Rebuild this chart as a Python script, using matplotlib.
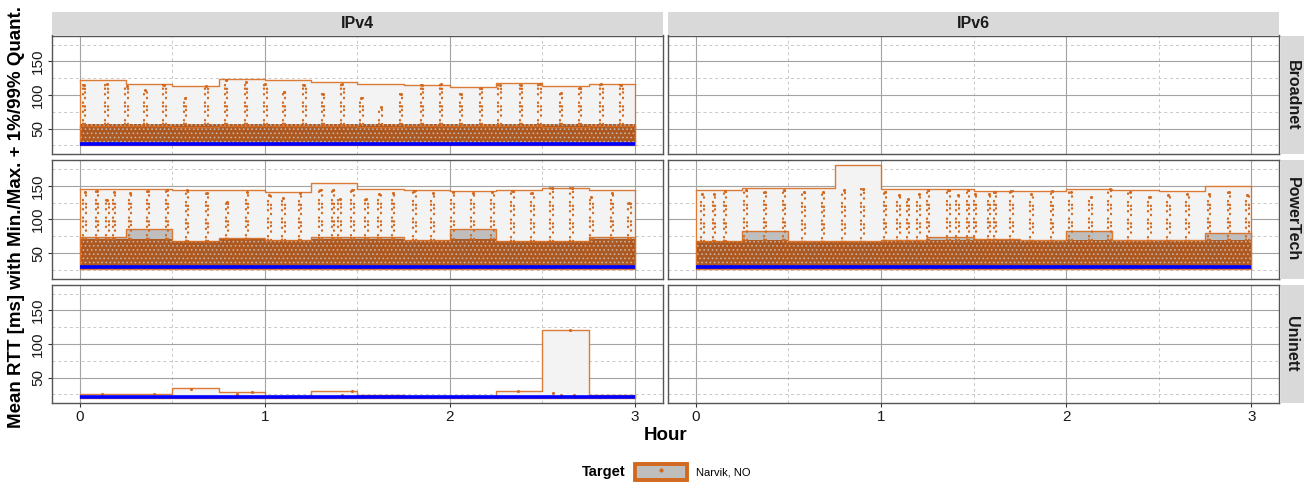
import matplotlib
matplotlib.use("Agg")
import matplotlib.pyplot as plt
import matplotlib.transforms as mtransforms
from matplotlib.patches import Patch
from matplotlib.lines import Line2D

plt.rcParams['font.family'] = ['Liberation Sans', 'DejaVu Sans']
plt.rcParams['hatch.linewidth'] = 0.7

# ---------------- data ----------------
protocols = ['IPv4', 'IPv6']
providers = ['Broadnet', 'PowerTech', 'Uninett']
interval_start = [0.0, 0.25, 0.5, 0.75, 1.0, 1.25, 1.5, 1.75, 2.0, 2.25, 2.5, 2.75]
interval_width = 0.25
x_ticks = [0, 1, 2, 3]
y_ticks = [50, 100, 150]

# Broadnet / IPv4
bro4_min = [25.4, 25.5, 25.3, 25.5, 25.4, 25.5, 25.4, 25.5, 25.3, 25.4, 25.5, 25.4]
bro4_q01 = [26.0, 26.1, 26.0, 26.1, 26.0, 26.0, 26.1, 26.0, 26.0, 26.1, 26.0, 26.0]
bro4_q99 = [53.0, 53.0, 52.0, 54.0, 53.0, 53.0, 52.0, 53.0, 54.0, 53.0, 52.0, 53.0]
bro4_max = [122.1, 116.2, 112.7, 123.6, 122.1, 118.7, 116.2, 115.6, 111.2, 117.2, 112.7, 116.2]
bro4_mean = [27.1, 27.0, 27.0, 27.1, 27.0, 27.1, 27.0, 27.0, 27.1, 27.0, 27.0, 27.1]
bro4_dense = [57, 57, 56, 57, 57, 57, 56, 57, 57, 56, 56, 57]
bro4_streak_x = [0.023, 0.145, 0.253, 0.355, 0.458, 0.57, 0.684, 0.791, 0.899, 1.003, 1.104, 1.214,
                 1.316, 1.42, 1.522, 1.626, 1.737, 1.85, 1.952, 2.061, 2.168, 2.27, 2.384, 2.486,
                 2.6, 2.703, 2.82, 2.928]
bro4_streak_top = [115, 117, 113, 107, 115, 95, 113, 122, 120, 117, 105, 115,
                   102, 117, 95, 82, 102, 115, 116, 101, 111, 115, 115, 116,
                   103, 111, 116, 115]

# PowerTech / IPv4
pow4_min = [26.5, 26.6, 26.5, 26.4, 26.5, 26.6, 26.5, 26.5, 26.6, 26.5, 26.4, 26.5]
pow4_q01 = [27.2, 27.3, 27.2, 27.1, 27.2, 27.3, 27.2, 27.2, 27.3, 27.2, 27.1, 27.2]
pow4_q99 = [73.3, 85.6, 68.3, 72.8, 69.8, 74.0, 74.2, 69.5, 86.3, 68.4, 68.4, 74.4]
pow4_max = [146.0, 145.0, 144.5, 143.6, 141.6, 154.5, 145.0, 144.0, 142.5, 143.5, 146.5, 144.5]
pow4_mean = [28.6, 28.8, 28.5, 28.6, 28.5, 28.7, 28.6, 28.5, 28.8, 28.5, 28.5, 28.6]
pow4_dense = [71, 71, 68, 71, 69, 71, 71, 69, 71, 68, 68, 71]
pow4_streak_x = [0.027, 0.092, 0.149, 0.185, 0.271, 0.368, 0.472, 0.58, 0.688, 0.795, 0.903, 1.025,
                 1.1, 1.19, 1.3, 1.37, 1.405, 1.474, 1.549, 1.62, 1.693, 1.809, 1.908, 2.016,
                 2.124, 2.231, 2.339, 2.447, 2.551, 2.659, 2.766, 2.877, 2.971]
pow4_streak_top = [141, 142, 129, 141, 139, 142, 143.6, 143.6, 139, 126, 141, 136,
                   132, 139, 143.6, 143.6, 131, 143.6, 131, 138, 139, 143, 139, 141.5,
                   140, 141.5, 143, 139, 146.5, 146.5, 134, 139, 124]

# PowerTech / IPv6
pow6_min = [26.5, 26.5, 26.6, 26.5, 26.4, 26.5, 26.5, 26.6, 26.5, 26.5, 26.4, 26.5]
pow6_q01 = [27.2, 27.2, 27.3, 27.2, 27.1, 27.2, 27.2, 27.3, 27.2, 27.2, 27.1, 27.2]
pow6_q99 = [68.3, 83.0, 68.3, 68.3, 69.3, 73.3, 70.3, 69.3, 82.7, 69.3, 69.3, 79.2]
pow6_max = [143.6, 146.5, 146.5, 180.7, 145.5, 144.8, 142.6, 142.6, 145.5, 143.6, 142.6, 149.5]
pow6_mean = [28.6, 28.7, 28.5, 28.6, 28.5, 28.6, 28.5, 28.5, 28.7, 28.5, 28.5, 28.6]
pow6_dense = [68, 69, 67, 67, 68, 69, 69, 68, 69, 68, 68, 69]
pow6_streak_x = [0.036, 0.099, 0.158, 0.269, 0.373, 0.476, 0.583, 0.686, 0.799, 0.901, 1.023, 1.095,
                 1.145, 1.203, 1.253, 1.364, 1.414, 1.471, 1.508, 1.583, 1.616, 1.705, 1.813, 1.924,
                 2.025, 2.132, 2.235, 2.343, 2.45, 2.553, 2.655, 2.773, 2.88, 2.979]
pow6_streak_top = [138.6, 138.6, 143.0, 143.6, 141, 143.6, 141, 141, 143.6, 146, 141, 136,
                   131, 138.6, 143.6, 143.6, 136, 143.6, 138.6, 138.6, 141, 142, 138.6, 142,
                   141, 133.7, 145, 141, 133.7, 136, 138.6, 138.6, 141, 136]

# Uninett / IPv4
uni4_min = [20.0, 20.1, 20.0, 20.1, 20.0, 20.0, 20.1, 20.0, 20.0, 20.1, 20.0, 20.0]
uni4_q01 = [20.2, 20.2, 20.3, 20.2, 20.2, 20.2, 20.2, 20.2, 20.2, 20.3, 20.2, 20.2]
uni4_q99 = [22.0, 21.8, 22.5, 22.2, 21.6, 22.3, 21.8, 21.5, 21.5, 22.0, 22.8, 21.9]
uni4_max = [25.8, 25.2, 33.7, 29.0, 23.0, 30.0, 23.5, 22.2, 22.0, 30.0, 121.5, 24.0]
uni4_mean = [20.5, 20.5, 20.6, 20.5, 20.4, 20.5, 20.4, 20.4, 20.4, 20.5, 20.7, 20.4]
uni4_dense = [22.0, 21.8, 22.5, 22.2, 21.6, 22.3, 21.8, 21.5, 21.5, 22.0, 22.8, 21.9]
uni4_point_x = [0.12, 0.4, 0.6, 0.93, 1.47, 2.37, 2.65, 2.56, 2.6, 2.67, 0.85, 1.42]
uni4_point_y = [25.5, 25.0, 33.5, 29.0, 30.0, 30.0, 121.0, 26.5, 24.5, 24.0, 25.0, 24.0]

panels = {
    ('Broadnet', 'IPv4'): dict(mn=bro4_min, q1=bro4_q01, q99=bro4_q99, mx=bro4_max, mean=bro4_mean,
                               dense=bro4_dense, sx=bro4_streak_x, st=bro4_streak_top),
    ('PowerTech', 'IPv4'): dict(mn=pow4_min, q1=pow4_q01, q99=pow4_q99, mx=pow4_max, mean=pow4_mean,
                                dense=pow4_dense, sx=pow4_streak_x, st=pow4_streak_top),
    ('PowerTech', 'IPv6'): dict(mn=pow6_min, q1=pow6_q01, q99=pow6_q99, mx=pow6_max, mean=pow6_mean,
                                dense=pow6_dense, sx=pow6_streak_x, st=pow6_streak_top),
    ('Uninett', 'IPv4'): dict(mn=uni4_min, q1=uni4_q01, q99=uni4_q99, mx=uni4_max, mean=uni4_mean,
                              dense=uni4_dense, sx=uni4_point_x, st=uni4_point_y),
}

# ---------------- style ----------------
ORANGE = '#D2691E'
DENSE = '#AE571E'
EDGE = (0.85, 0.43, 0.14, 0.9)
W, H = 1316, 483

all_vals = []
for p in panels.values():
    all_vals += p['mn'] + p['mx']
ylo, yhi = min(all_vals), max(all_vals)
pad = 0.05 * (yhi - ylo)
ylim = (ylo - pad, yhi + pad)
xlim = (-0.15, 3.15)

fig = plt.figure(figsize=(W / 100, H / 100), dpi=100)


def frect(x0, x1, y0, y1):
    return [x0 / W, 1 - y1 / H, (x1 - x0) / W, (y1 - y0) / H]


def ext(v):
    return list(v) + [v[-1]]


cols = [(52, 662.5), (668, 1279)]
rows = [(35.5, 154), (160, 278.5), (284.5, 403)]

edges = interval_start + [interval_start[-1] + interval_width]

for ri, prov in enumerate(providers):
    for ci, proto in enumerate(protocols):
        x0, x1 = cols[ci]
        y0, y1 = rows[ri]
        ax = fig.add_axes(frect(x0, x1, y0, y1))
        ax.set_xlim(*xlim)
        ax.set_ylim(*ylim)
        ax.set_xticks(x_ticks)
        ax.set_xticks([0.5, 1.5, 2.5], minor=True)
        ax.set_yticks(y_ticks)
        ax.set_yticks([25, 75, 125, 175], minor=True)
        ax.grid(which='major', color='#A3A3A3', linewidth=0.8)
        ax.grid(which='minor', color='#C8C8C8', linewidth=0.7, linestyle=(0, (3, 3)))
        ax.set_axisbelow(True)
        for s in ax.spines.values():
            s.set_color('#555555')
            s.set_linewidth(1.0)
        ax.tick_params(which='minor', length=0)
        ax.tick_params(which='major', length=3, color='#333333', width=0.8,
                       labelsize=11, labelcolor='#1A1A1A', pad=2)
        ax.tick_params(axis='y', labelrotation=90)
        if ci != 0:
            ax.tick_params(axis='y', left=False, labelleft=False)
        else:
            for lab in ax.get_yticklabels():
                lab.set_va('center')
        if ri != len(providers) - 1:
            ax.tick_params(axis='x', bottom=False, labelbottom=False)

        key = (prov, proto)
        if key in panels:
            d = panels[key]
            # min-max band
            ax.fill_between(edges, ext(d['mn']), ext(d['mx']), step='post',
                            facecolor='#F3F3F3', linewidth=0, zorder=1.5)
            # 1%-99% band
            ax.fill_between(edges, ext(d['q1']), ext(d['q99']), step='post',
                            facecolor='#BEBEBE', linewidth=0, zorder=2)
            # dense cloud of measurements
            if prov != 'Uninett':
                ax.fill_between(edges, ext(d['mn']), ext(d['dense']), step='post',
                                facecolor=DENSE, edgecolor='#BFB5AC', hatch='....',
                                linewidth=0, zorder=3)
            # outline steps
            for k in ('mx', 'q99', 'mn'):
                ax.plot(edges, ext(d[k]), drawstyle='steps-post', color=EDGE,
                        linewidth=1.0, zorder=3.2)
            ax.vlines([edges[0], edges[-1]], [d['mn'][0], d['mn'][-1]],
                      [d['mx'][0], d['mx'][-1]], colors=[EDGE], linewidth=0.9, zorder=3.2)
            ax.vlines([edges[0], edges[-1]], [d['q1'][0], d['q1'][-1]],
                      [d['q99'][0], d['q99'][-1]], colors=[EDGE], linewidth=0.9, zorder=3.2)
            # outlier streaks (columns of individual measurements)
            if prov != 'Uninett':
                bases = []
                for sx in d['sx']:
                    idx = min(int(sx / interval_width), len(interval_start) - 1)
                    bases.append(d['dense'][idx])
                for off_pt, dash_off in ((-0.9, 0.0), (0.9, 1.7)):
                    tr = ax.transData + mtransforms.ScaledTranslation(off_pt / 72, 0,
                                                                      fig.dpi_scale_trans)
                    lc = ax.vlines(d['sx'], bases, d['st'], colors=ORANGE, linewidth=1.6,
                                   linestyles=[(dash_off, (0.2, 1.4, 0.2, 3.6, 0.2, 2.3))],
                                   zorder=3.5, transform=tr)
                    lc.set_capstyle('round')
            ax.scatter(d['sx'], d['st'], s=5, color=ORANGE, linewidths=0, zorder=3.6)
            ax.plot(edges, ext(d['mean']), drawstyle='steps-post',
                    color='#0000FF', linewidth=2.6, zorder=4, solid_capstyle='butt')

        # top strips
        if ri == 0:
            sax = fig.add_axes(frect(x0, x1, 12, 35))
            sax.set_facecolor('#D9D9D9')
            sax.set_xticks([]); sax.set_yticks([])
            for s in sax.spines.values():
                s.set_visible(False)
            sax.text(0.5, 0.5, proto, ha='center', va='center', fontsize=11.5,
                     fontweight='bold', color='#1A1A1A', transform=sax.transAxes)
        # right strips
        if ci == len(protocols) - 1:
            rax = fig.add_axes(frect(1280.5, 1303.5, y0, y1))
            rax.set_facecolor('#D9D9D9')
            rax.set_xticks([]); rax.set_yticks([])
            for s in rax.spines.values():
                s.set_visible(False)
            rax.text(0.5, 0.5, prov, ha='center', va='center', rotation=-90, fontsize=11.5,
                     fontweight='bold', color='#1A1A1A', transform=rax.transAxes)

fig.text(17 / W, 1 - 216.5 / H, 'Mean RTT [ms] with Min./Max. + 1%/99% Quant.', rotation=90,
         ha='center', va='center', fontsize=13.5, fontweight='bold', color='#000000')
fig.text(665.5 / W, 1 - 436 / H, 'Hour', ha='center', va='center', fontsize=13.5,
         fontweight='bold', color='#000000')

# legend
fig.text(625 / W, 1 - 472 / H, 'Target', ha='right', va='center', fontsize=10.5,
         fontweight='bold')
key_patch = Patch(facecolor='#BEBEBE', edgecolor=ORANGE, linewidth=2.8)
key_dot = Line2D([], [], marker='o', color=ORANGE, markersize=2, linestyle='None')
fig.legend(handles=[(key_patch, key_dot)], labels=['Narvik, NO'], loc='center left',
           bbox_to_anchor=(635 / W, 1 - 472 / H), frameon=False, fontsize=8,
           handlelength=4.7, handleheight=1.8, handletextpad=0.8, borderpad=0,
           borderaxespad=0)

fig.savefig('out.png', dpi=100)
